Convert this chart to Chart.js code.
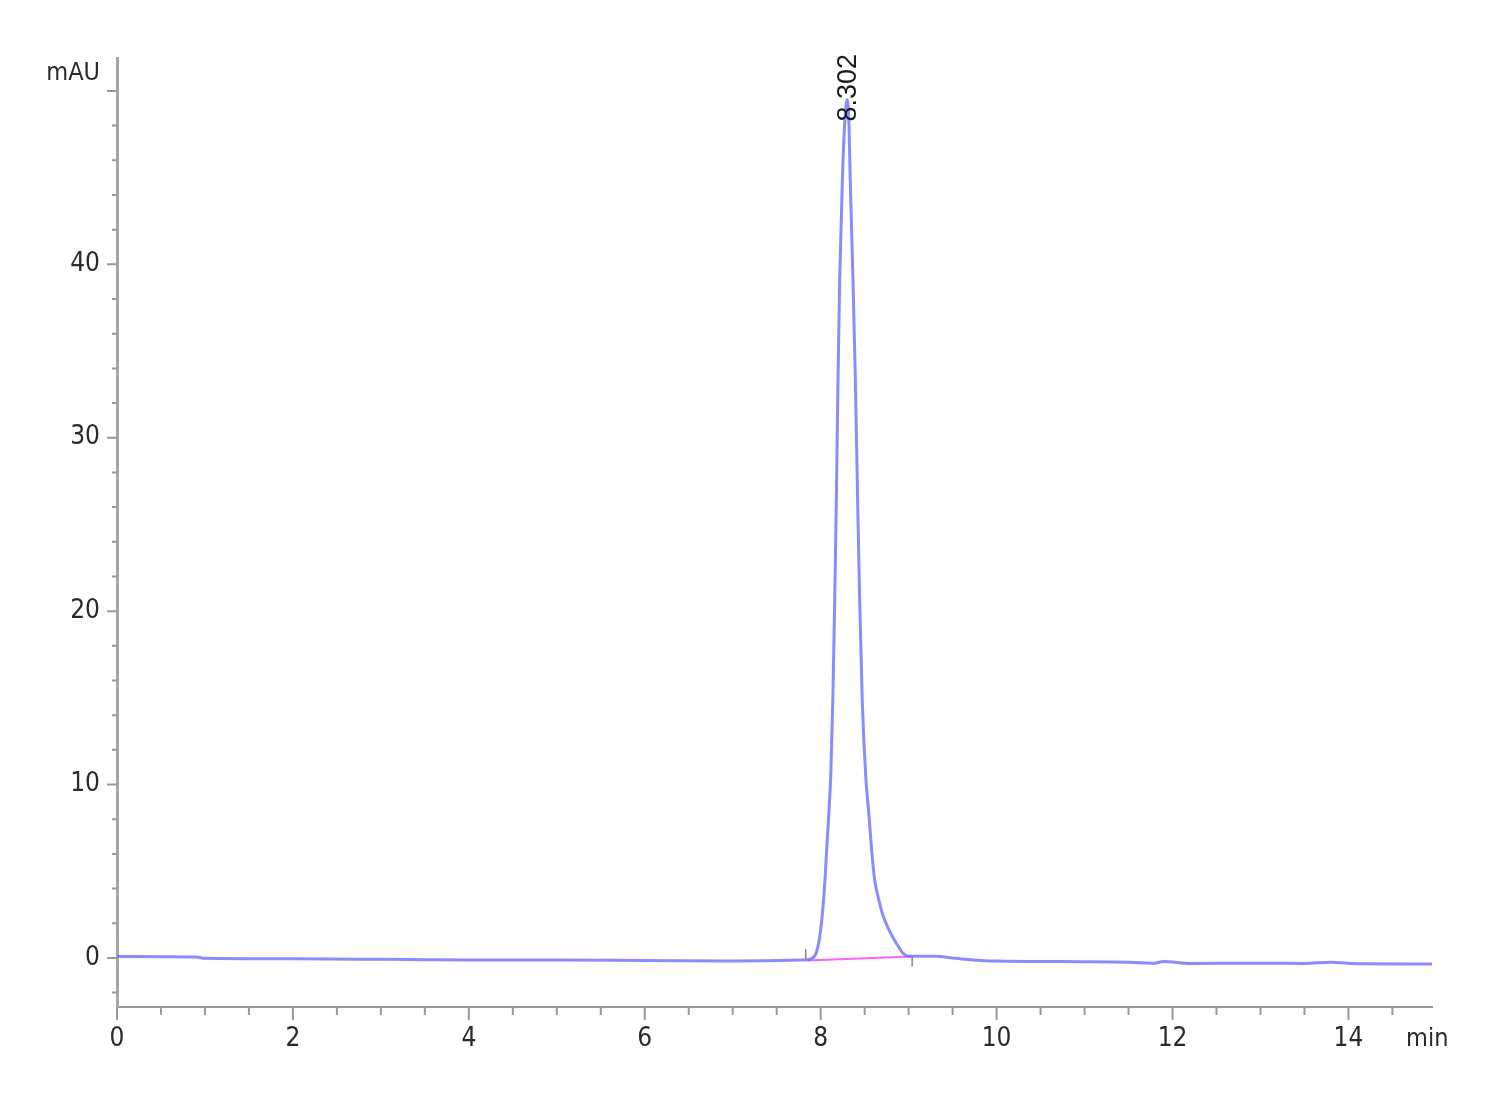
<!DOCTYPE html>
<html>
<head>
<meta charset="utf-8">
<script src="https://cdn.jsdelivr.net/npm/chart.js@4.4.1/dist/chart.umd.min.js"></script>
<style>
  html, body { margin: 0; padding: 0; background: #fff; }
  canvas { display: block; }
</style>
</head>
<body>
<canvas id="chrom" width="1500" height="1100"></canvas>
<script>
// Retention time (min) and absorbance (mAU)
var times = [
  0, 0.9, 1.0, 2, 3, 3.5, 4, 5, 6, 7, 7.79,
  7.89, 7.95, 7.99, 8.02, 8.049, 8.07, 8.093, 8.115, 8.138, 8.16, 8.178, 8.197, 8.216, 8.247, 8.275,
  8.302,
  8.322, 8.336, 8.367, 8.394, 8.42, 8.443, 8.472, 8.515, 8.547, 8.576, 8.614, 8.652, 8.70, 8.776, 8.86, 8.935,
  9.01, 9.3, 9.5, 9.7, 10, 11, 11.5, 11.8, 11.9, 12.2, 13, 13.5, 13.8, 14.1, 14.95
];
var signal = [
  0.08, 0.05, -0.02, -0.05, -0.08, -0.1, -0.12, -0.12, -0.15, -0.18, -0.12,
  -0.05, 0.3, 1.25, 2.58, 4.5, 6.42, 8.35, 10.6, 14.9, 20.7, 26.4, 33.4, 39.1, 44.9, 48.3,
  49.5,
  48.0, 44.9, 39.1, 33.4, 26.4, 20.7, 14.9, 10.27, 8.35, 6.42, 4.5, 3.54, 2.58, 1.62, 0.85, 0.27,
  0.1, 0.1, 0.0, -0.1, -0.18, -0.22, -0.25, -0.3, -0.2, -0.32, -0.3, -0.32, -0.25, -0.33, -0.35
];

// Integration baseline under the peak
var baseTimes = [7.85, 9.03];
var baseValues = [-0.15, 0.08];

// Peak start / end markers
var markTimes = [7.83, 9.04];

var peakTime = 8.302;
var peakHeight = 49.5;
var peakLabel = '8.302';

var xMin = 0, xMax = 14.95;
var yMin = -2.83, yMax = 51.9;

function pairs(xs, ys) {
  return xs.map(function(v, i) { return { x: v, y: ys[i] }; });
}

function stepTicks(from, to, step) {
  var out = [];
  for (var v = from; v <= to + 1e-9; v += step) out.push({ value: Math.round(v * 100) / 100 });
  return out;
}

var axisFont = { family: '"Liberation Sans Narrow", "DejaVu Sans Condensed", "Liberation Sans", sans-serif', size: 26 };

var decor = {
  id: 'decor',
  afterDraw: function(chart) {
    var ctx = chart.ctx;
    var x = chart.scales.x, y = chart.scales.y, a = chart.chartArea;
    ctx.save();
    ctx.strokeStyle = '#9a9a9a';
    ctx.lineWidth = 2;
    ctx.beginPath();
    x.ticks.forEach(function(t) {
      var px = x.getPixelForValue(t.value);
      var len = (t.value % 2 === 0) ? 13 : 8;
      ctx.moveTo(px, a.bottom);
      ctx.lineTo(px, a.bottom + len);
    });
    y.ticks.forEach(function(t) {
      var py = y.getPixelForValue(t.value);
      var len = (t.value % 10 === 0) ? 10 : 5;
      ctx.moveTo(a.left, py);
      ctx.lineTo(a.left - len, py);
    });
    ctx.stroke();

    // peak start / end marks
    ctx.strokeStyle = '#888';
    ctx.lineWidth = 1.5;
    ctx.beginPath();
    var p0 = x.getPixelForValue(markTimes[0]);
    ctx.moveTo(p0, y.getPixelForValue(-0.1));
    ctx.lineTo(p0, y.getPixelForValue(0.5));
    var p1 = x.getPixelForValue(markTimes[1]);
    ctx.moveTo(p1, y.getPixelForValue(0.1));
    ctx.lineTo(p1, y.getPixelForValue(-0.5));
    ctx.stroke();

    // axis titles
    ctx.fillStyle = '#2a2a2a';
    ctx.font = '25px ' + axisFont.family;
    ctx.textBaseline = 'middle';
    ctx.textAlign = 'right';
    ctx.fillText('mAU', a.left - 17, 73);
    ctx.textAlign = 'left';
    ctx.fillText('min', a.right - 26, 1039);

    // peak retention time label
    ctx.translate(x.getPixelForValue(peakTime) + 1, y.getPixelForValue(peakHeight) + 22);
    ctx.rotate(-Math.PI / 2);
    ctx.font = '27px "Liberation Sans", Arial, sans-serif';
    ctx.textAlign = 'left';
    ctx.fillStyle = '#1a1a1a';
    ctx.fillText(peakLabel, 0, 0);
    ctx.restore();
  }
};

new Chart(document.getElementById('chrom').getContext('2d'), {
  type: 'scatter',
  data: {
    datasets: [{
      data: pairs(times, signal),
      showLine: true,
      borderColor: 'rgba(110, 110, 255, 0.8)',
      borderWidth: 3,
      pointRadius: 0,
      cubicInterpolationMode: 'monotone',
      order: 1
    }, {
      data: pairs(baseTimes, baseValues),
      showLine: true,
      borderColor: 'rgba(255, 80, 255, 0.9)',
      borderWidth: 2,
      pointRadius: 0,
      order: 2
    }]
  },
  options: {
    responsive: false,
    animation: false,
    devicePixelRatio: 1,
    layout: { padding: { top: 58, right: 68, left: 0, bottom: 0 } },
    plugins: { legend: { display: false }, tooltip: { enabled: false } },
    scales: {
      x: {
        type: 'linear',
        min: xMin,
        max: xMax,
        afterBuildTicks: function(scale) { scale.ticks = stepTicks(0, 14.5, 0.5); },
        afterFit: function(scale) { scale.height = 93; },
        ticks: {
          autoSkip: false,
          maxRotation: 0,
          padding: 17,
          color: '#2a2a2a',
          font: axisFont,
          callback: function(v) { return (v % 2 === 0) ? String(v) : ''; }
        },
        grid: { display: true, drawOnChartArea: false, drawTicks: false },
        border: { display: true, color: '#9a9a9a', width: 2 }
      },
      y: {
        type: 'linear',
        min: yMin,
        max: yMax,
        afterBuildTicks: function(scale) { scale.ticks = stepTicks(-2, 50, 2); },
        afterFit: function(scale) { scale.width = 117; },
        ticks: {
          autoSkip: false,
          padding: 17,
          color: '#2a2a2a',
          font: axisFont,
          callback: function(v) { return (v % 10 === 0 && v < 50) ? String(v) : ''; }
        },
        grid: { display: true, drawOnChartArea: false, drawTicks: false },
        border: { display: true, color: '#a5a5a5', width: 3 }
      }
    }
  },
  plugins: [decor]
});
</script>
</body>
</html>
